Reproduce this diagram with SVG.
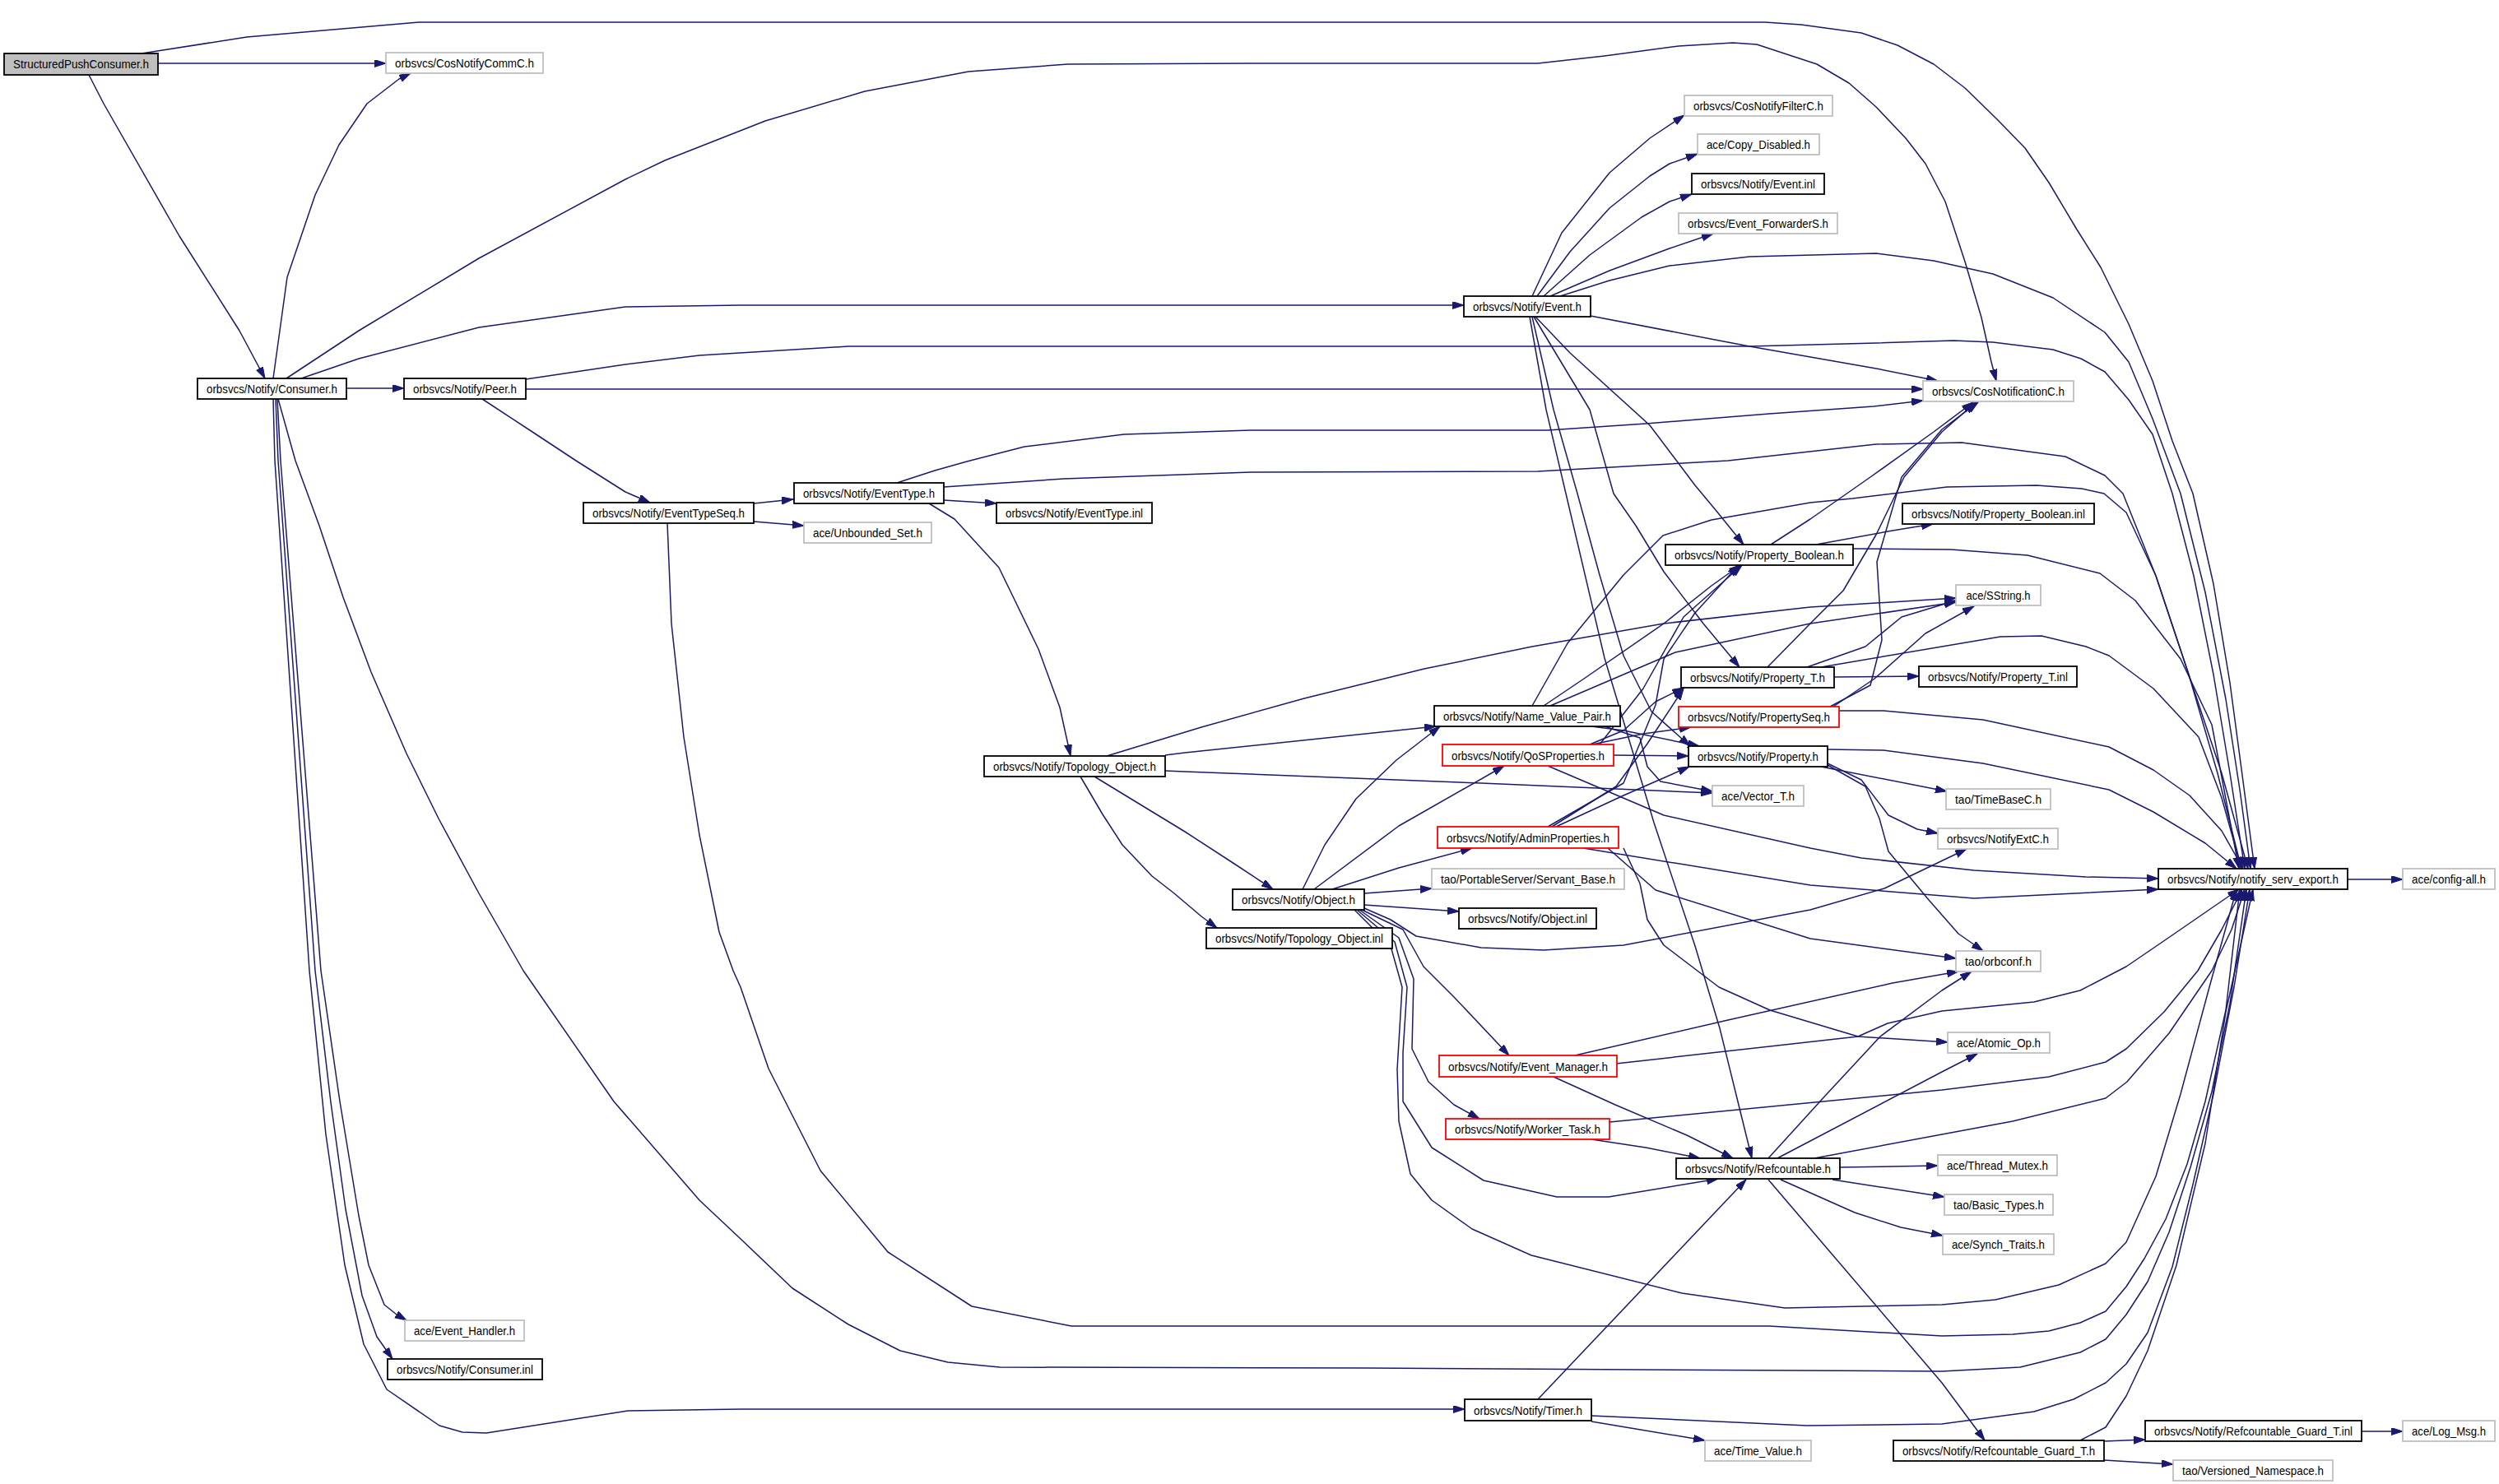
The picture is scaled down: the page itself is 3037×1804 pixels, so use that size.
<svg xmlns="http://www.w3.org/2000/svg" width="3037" height="1804" viewBox="0 0 3037 1804">
<style>
rect{fill:#fff;stroke-width:1.8}
.n rect{stroke:#000}
.g rect{stroke:#bfbfbf}
.r rect{stroke:#ff0000}
.s rect{stroke:#000;fill:#bfbfbf}
text{font-family:"Liberation Sans",Arial,sans-serif;font-size:15px;fill:#000;text-anchor:middle}
#edges path{fill:none;stroke:#191970;stroke-width:1.5;stroke-linejoin:round;marker-end:url(#ah)}
</style>
<defs>
<marker id="ah" markerUnits="userSpaceOnUse" markerWidth="16" markerHeight="10" refX="14" refY="4.5" orient="auto">
<path d="M0,0 L14,4.5 L0,9 Z" fill="#191970" stroke="#191970" stroke-width="1"/>
</marker>
</defs>
<rect x="0" y="0" width="3037" height="1804" style="fill:#fff;stroke:none"/>
<g id="edges">
<path d="M192,77 L469,77"/>
<path d="M108,91 L126,126 L218,287 L291,402 L322,460"/>
<path d="M172,65 L300,45 L509,27 L760,27 L2145,27 L2189,30 L2262,40 L2306,55 L2350,78 L2388,107 L2427,145 L2461,180 L2490,222 L2524,279 L2553,325 L2587,394 L2616,463 L2640,536 L2665,600 L2690,710 L2710,830 L2726,950 L2740,1056"/>
<path d="M332,460 L349,337 L383,237 L412,176 L446,126 L485,96 L499,89"/>
<path d="M348,460 L436,402 L582,314 L760,218 L808,195 L930,147 L1051,111 L1177,87 L1298,78 L1520,77 L1869,77 L1950,68 L2040,56 L2106,52 L2135,54 L2208,78 L2247,101 L2280,130 L2316,168 L2340,199 L2364,245 L2388,318 L2408,386 L2420,440 L2426,463"/>
<path d="M366,460 L436,436 L582,398 L760,373 L900,371 L1779,371"/>
<path d="M421,472 L491,472"/>
<path d="M338,485 L359,560 L388,639 L417,726 L451,817 L494,916 L533,995 L582,1086 L636,1180 L746,1339 L850,1459 L900,1506 L963,1566 L1031,1610 L1094,1642 L1152,1656 L1215,1662 L1660,1663 L2360,1667 L2455,1662 L2528,1644 L2559,1628 L2584,1598 L2610,1558 L2636,1498 L2662,1419 L2688,1327 L2710,1220 L2730,1081"/>
<path d="M337,485 L341,560 L390,1180 L413,1339 L436,1478 L448,1538 L467,1586 L482,1598 L494,1605"/>
<path d="M335,485 L338,560 L383,1180 L402,1340 L420,1470 L440,1575 L458,1625 L477,1652"/>
<path d="M332,485 L334,560 L376,1180 L396,1379 L419,1538 L442,1634 L470,1689 L534,1733 L562,1741 L591,1742 L763,1715 L900,1713 L1780,1713"/>
<path d="M639,473 L2337,473"/>
<path d="M639,461 L760,443 L850,432 L1031,421 L2126,421 L2280,417 L2374,414 L2422,416 L2495,425 L2529,436 L2558,452 L2587,486 L2616,528 L2640,600 L2666,700 L2690,820 L2710,940 L2728,1056"/>
<path d="M586,485 L650,527 L700,560 L760,598 L790,611"/>
<path d="M916,612 L964,607"/>
<path d="M916,634 L977,639"/>
<path d="M811,636 L816,758 L831,896 L850,1015 L874,1133 L891,1180 L900,1200 L934,1299 L997,1423 L1079,1522 L1181,1588 L1302,1612 L1660,1612 L2150,1612 L2360,1624 L2446,1622 L2490,1618 L2528,1608 L2559,1594 L2584,1564 L2606,1530 L2632,1482 L2658,1415 L2680,1339 L2705,1228 L2722,1081"/>
<path d="M1147,608 L1211,612"/>
<path d="M1090,587 L1136,572 L1175,561 L1245,543 L1366,528 L1520,523 L1881,523 L2000,515 L2150,503 L2277,494 L2337,487"/>
<path d="M1147,592 L1293,582 L1520,574 L1869,573 L2100,560 L2280,540 L2384,538 L2510,555 L2558,578 L2580,600 L2620,700 L2660,820 L2695,940 L2724,1056"/>
<path d="M1129,612 L1160,631 L1214,690 L1262,789 L1288,860 L1301,919"/>
<path d="M1345,919 L1460,884 L1585,849 L1731,813 L1862,786 L2022,758 L2200,738 L2377,727"/>
<path d="M1416,918 L1440,915 L1745,883"/>
<path d="M1416,937 L1440,938 L1800,952 L2081,964"/>
<path d="M1330,944 L1440,1011 L1500,1050 L1547,1081"/>
<path d="M1313,944 L1340,990 L1364,1027 L1400,1065 L1427,1086 L1460,1114 L1479,1128"/>
<path d="M1862,858 L1905,782 L1973,699 L2021,651 L2080,632 L2200,611 L2251,606 L2366,592 L2475,590 L2530,594 L2557,600 L2584,623 L2620,700 L2660,820 L2700,940 L2732,1056"/>
<path d="M1876,858 L1925,825 L2022,758 L2080,712 L2115,687"/>
<path d="M1884,858 L2036,793 L2200,758 L2377,732"/>
<path d="M1934,883 L1973,888 L2065,907"/>
<path d="M1950,883 L1993,897 L2002,932 L2018,950 L2081,962"/>
<path d="M1932,905 L1973,888 L2012,853 L2046,836"/>
<path d="M1944,905 L1997,837 L2046,750 L2117,687"/>
<path d="M1935,905 L1997,892 L2055,884"/>
<path d="M1961,918 L2052,919"/>
<path d="M1881,931 L2022,991 L2200,1031 L2262,1043 L2399,1058 L2535,1066 L2623,1068"/>
<path d="M1881,1005 L1973,952 L2012,857 L2022,801 L2060,745 L2113,687"/>
<path d="M1886,1005 L1964,956 L2002,904 L2046,837"/>
<path d="M1891,1005 L1973,967 L2053,932"/>
<path d="M1924,1031 L2200,1076 L2399,1092 L2623,1081"/>
<path d="M1954,1031 L2012,1082 L2200,1141 L2377,1165"/>
<path d="M1973,1031 L1993,1074 L2002,1118 L2022,1149 L2089,1200 L2151,1228 L2258,1260 L2367,1267"/>
<path d="M1583,1081 L1610,1027 L1648,971 L1697,924 L1750,883"/>
<path d="M1597,1081 L1700,1004 L1828,931"/>
<path d="M1619,1081 L1700,1055 L1789,1031"/>
<path d="M1658,1086 L1740,1080"/>
<path d="M1658,1100 L1773,1108"/>
<path d="M1658,1104 L1690,1118 L1721,1138 L1800,1152 L1876,1155 L1973,1149 L2200,1106 L2290,1080 L2390,1032"/>
<path d="M1655,1106 L1705,1130 L1730,1175 L1767,1212 L1834,1283"/>
<path d="M1652,1106 L1700,1140 L1718,1190 L1716,1275 L1736,1315 L1767,1343 L1798,1360"/>
<path d="M1649,1106 L1695,1145 L1710,1200 L1705,1280 L1705,1339 L1740,1395 L1803,1435 L1892,1455 L1955,1455 L2088,1433"/>
<path d="M1646,1106 L1690,1150 L1704,1200 L1698,1300 L1700,1363 L1714,1427 L1740,1459 L1789,1494 L1861,1526 L2044,1572 L2169,1590 L2360,1586 L2425,1580 L2502,1562 L2559,1536 L2584,1510 L2620,1430 L2650,1330 L2685,1200 L2718,1081"/>
<path d="M1888,1309 L1963,1343 L2050,1380 L2106,1408"/>
<path d="M1914,1283 L2100,1240 L2300,1195 L2380,1181"/>
<path d="M1964,1293 L2258,1260 L2294,1244 L2360,1229 L2472,1218 L2528,1204 L2584,1175 L2628,1145 L2721,1081"/>
<path d="M1934,1385 L2000,1395 L2066,1408"/>
<path d="M1956,1364 L2360,1325 L2490,1309 L2559,1291 L2584,1275 L2630,1230 L2671,1180 L2700,1130 L2725,1081"/>
<path d="M2149,1408 L2220,1330 L2285,1260 L2360,1204 L2396,1181"/>
<path d="M2160,1408 L2360,1303 L2403,1281"/>
<path d="M2205,1408 L2360,1379 L2446,1363 L2559,1335 L2585,1315 L2636,1256 L2688,1180 L2712,1130 L2728,1081"/>
<path d="M2236,1419 L2355,1417"/>
<path d="M2227,1434 L2363,1455"/>
<path d="M2164,1434 L2254,1474 L2310,1492 L2361,1502"/>
<path d="M2149,1434 L2360,1681 L2412,1751"/>
<path d="M1869,1701 L2122,1434"/>
<path d="M1934,1721 L2196,1733 L2360,1731 L2472,1716 L2520,1701 L2559,1681 L2584,1658 L2610,1620 L2640,1540 L2665,1440 L2690,1330 L2715,1200 L2734,1081"/>
<path d="M1934,1728 L2072,1751"/>
<path d="M2557,1752 L2607,1750"/>
<path d="M2557,1775 L2641,1780"/>
<path d="M2528,1751 L2559,1735 L2584,1697 L2610,1642 L2645,1538 L2680,1390 L2705,1230 L2738,1081"/>
<path d="M2870,1740 L2920,1740"/>
<path d="M2853,1069 L2920,1069"/>
<path d="M1862,360 L1898,283 L1956,210 L2005,168 L2047,140"/>
<path d="M1868,360 L1908,306 L1956,253 L2005,214 L2029,199 L2063,187"/>
<path d="M1876,360 L1932,310 L1995,264 L2029,245 L2056,236"/>
<path d="M1884,360 L1956,329 L2029,302 L2082,284"/>
<path d="M1896,360 L1956,341 L2029,323 L2126,312 L2280,308 L2350,317 L2422,333 L2495,362 L2558,404 L2587,440 L2616,509 L2650,600 L2680,720 L2705,850 L2722,960 L2735,1056"/>
<path d="M1933,384 L2126,421 L2280,448 L2355,463"/>
<path d="M1866,385 L1908,429 L2005,517 L2060,590 L2085,620 L2119,662"/>
<path d="M1864,385 L1932,498 L1961,600 L1988,639 L2022,695 L2070,758 L2114,811"/>
<path d="M1862,385 L1888,498 L1917,600 L1944,699 L1973,797 L2007,865 L2054,907"/>
<path d="M1859,385 L1879,498 L1903,600 L1950,800 L2010,1000 L2060,1150 L2090,1250 L2129,1408"/>
<path d="M2207,662 L2300,645 L2349,637"/>
<path d="M2152,662 L2200,631 L2273,580 L2350,525 L2398,489"/>
<path d="M2252,667 L2371,668 L2464,675 L2552,697 L2595,730 L2650,801 L2688,881 L2721,1056"/>
<path d="M2229,823 L2332,822"/>
<path d="M2196,811 L2267,786 L2311,750 L2377,730"/>
<path d="M2213,811 L2431,774 L2481,773 L2535,786 L2563,797 L2617,837 L2672,896 L2700,970 L2724,1056"/>
<path d="M2148,811 L2200,758 L2240,718 L2280,650 L2314,580 L2360,525 L2401,489"/>
<path d="M2224,859 L2273,833 L2287,778 L2281,683 L2311,580 L2360,522 L2404,489"/>
<path d="M2228,859 L2278,825 L2340,770 L2399,737"/>
<path d="M2235,864 L2289,864 L2410,875 L2563,908 L2617,936 L2661,967 L2700,1010 L2726,1056"/>
<path d="M2221,911 L2289,912 L2410,928 L2563,960 L2617,987 L2680,1025 L2718,1056"/>
<path d="M2213,932 L2366,962"/>
<path d="M2221,928 L2262,948 L2295,991 L2330,1008 L2355,1013"/>
<path d="M2221,930 L2267,956 L2284,995 L2295,1035 L2344,1094 L2380,1135 L2410,1156"/>
</g>
<g id="n_spc" class="s"><rect x="5" y="65" width="187" height="26"/><text x="98.5" y="83" textLength="165" lengthAdjust="spacingAndGlyphs">StructuredPushConsumer.h</text></g>
<g id="n_commc" class="g"><rect x="469" y="64" width="191" height="25"/><text x="564.5" y="82" textLength="169" lengthAdjust="spacingAndGlyphs">orbsvcs/CosNotifyCommC.h</text></g>
<g id="n_consumer" class="n"><rect x="240" y="460" width="181" height="25"/><text x="330.5" y="478" textLength="159" lengthAdjust="spacingAndGlyphs">orbsvcs/Notify/Consumer.h</text></g>
<g id="n_peer" class="n"><rect x="491" y="460" width="148" height="25"/><text x="565" y="478" textLength="126" lengthAdjust="spacingAndGlyphs">orbsvcs/Notify/Peer.h</text></g>
<g id="n_event" class="n"><rect x="1779" y="360" width="154" height="25"/><text x="1856" y="378" textLength="132" lengthAdjust="spacingAndGlyphs">orbsvcs/Notify/Event.h</text></g>
<g id="n_filterc" class="g"><rect x="2047" y="116" width="180" height="25"/><text x="2137" y="134" textLength="158" lengthAdjust="spacingAndGlyphs">orbsvcs/CosNotifyFilterC.h</text></g>
<g id="n_copydis" class="g"><rect x="2063" y="163" width="148" height="25"/><text x="2137" y="181" textLength="126" lengthAdjust="spacingAndGlyphs">ace/Copy_Disabled.h</text></g>
<g id="n_eventinl" class="n"><rect x="2056" y="211" width="161" height="25"/><text x="2136.5" y="229" textLength="139" lengthAdjust="spacingAndGlyphs">orbsvcs/Notify/Event.inl</text></g>
<g id="n_fwds" class="g"><rect x="2040" y="259" width="193" height="25"/><text x="2136.5" y="277" textLength="171" lengthAdjust="spacingAndGlyphs">orbsvcs/Event_ForwarderS.h</text></g>
<g id="n_cosnotif" class="g"><rect x="2337" y="463" width="183" height="25"/><text x="2428.5" y="481" textLength="161" lengthAdjust="spacingAndGlyphs">orbsvcs/CosNotificationC.h</text></g>
<g id="n_ets" class="n"><rect x="709" y="611" width="207" height="25"/><text x="812.5" y="629" textLength="185" lengthAdjust="spacingAndGlyphs">orbsvcs/Notify/EventTypeSeq.h</text></g>
<g id="n_et" class="n"><rect x="965" y="587" width="182" height="25"/><text x="1056" y="605" textLength="160" lengthAdjust="spacingAndGlyphs">orbsvcs/Notify/EventType.h</text></g>
<g id="n_etinl" class="n"><rect x="1211" y="611" width="189" height="25"/><text x="1305.5" y="629" textLength="167" lengthAdjust="spacingAndGlyphs">orbsvcs/Notify/EventType.inl</text></g>
<g id="n_ubset" class="g"><rect x="977" y="635" width="155" height="25"/><text x="1054.5" y="653" textLength="133" lengthAdjust="spacingAndGlyphs">ace/Unbounded_Set.h</text></g>
<g id="n_topo" class="n"><rect x="1196" y="919" width="220" height="25"/><text x="1306" y="937" textLength="198" lengthAdjust="spacingAndGlyphs">orbsvcs/Notify/Topology_Object.h</text></g>
<g id="n_pb" class="n"><rect x="2024" y="662" width="228" height="25"/><text x="2138" y="680" textLength="206" lengthAdjust="spacingAndGlyphs">orbsvcs/Notify/Property_Boolean.h</text></g>
<g id="n_pbinl" class="n"><rect x="2312" y="612" width="233" height="25"/><text x="2428.5" y="630" textLength="211" lengthAdjust="spacingAndGlyphs">orbsvcs/Notify/Property_Boolean.inl</text></g>
<g id="n_sstring" class="g"><rect x="2377" y="711" width="103" height="25"/><text x="2428.5" y="729" textLength="78" lengthAdjust="spacingAndGlyphs">ace/SString.h</text></g>
<g id="n_pt" class="n"><rect x="2043" y="811" width="186" height="25"/><text x="2136" y="829" textLength="164" lengthAdjust="spacingAndGlyphs">orbsvcs/Notify/Property_T.h</text></g>
<g id="n_ptinl" class="n"><rect x="2332" y="810" width="192" height="25"/><text x="2428" y="828" textLength="170" lengthAdjust="spacingAndGlyphs">orbsvcs/Notify/Property_T.inl</text></g>
<g id="n_pseq" class="r"><rect x="2040" y="859" width="195" height="25"/><text x="2137.5" y="877" textLength="173" lengthAdjust="spacingAndGlyphs">orbsvcs/Notify/PropertySeq.h</text></g>
<g id="n_prop" class="n"><rect x="2052" y="907" width="169" height="25"/><text x="2136.5" y="925" textLength="147" lengthAdjust="spacingAndGlyphs">orbsvcs/Notify/Property.h</text></g>
<g id="n_vector" class="g"><rect x="2081" y="955" width="111" height="25"/><text x="2136.5" y="973" textLength="89" lengthAdjust="spacingAndGlyphs">ace/Vector_T.h</text></g>
<g id="n_timebase" class="g"><rect x="2365" y="959" width="127" height="25"/><text x="2428.5" y="977" textLength="105" lengthAdjust="spacingAndGlyphs">tao/TimeBaseC.h</text></g>
<g id="n_extc" class="g"><rect x="2355" y="1007" width="146" height="25"/><text x="2428" y="1025" textLength="124" lengthAdjust="spacingAndGlyphs">orbsvcs/NotifyExtC.h</text></g>
<g id="n_nvp" class="n"><rect x="1743" y="858" width="226" height="25"/><text x="1856" y="876" textLength="204" lengthAdjust="spacingAndGlyphs">orbsvcs/Notify/Name_Value_Pair.h</text></g>
<g id="n_qos" class="r"><rect x="1753" y="905" width="208" height="26"/><text x="1857" y="924" textLength="186" lengthAdjust="spacingAndGlyphs">orbsvcs/Notify/QoSProperties.h</text></g>
<g id="n_admin" class="r"><rect x="1747" y="1005" width="220" height="26"/><text x="1857" y="1024" textLength="198" lengthAdjust="spacingAndGlyphs">orbsvcs/Notify/AdminProperties.h</text></g>
<g id="n_servant" class="g"><rect x="1740" y="1056" width="234" height="25"/><text x="1857" y="1074" textLength="212" lengthAdjust="spacingAndGlyphs">tao/PortableServer/Servant_Base.h</text></g>
<g id="n_object" class="n"><rect x="1498" y="1081" width="160" height="25"/><text x="1578" y="1099" textLength="138" lengthAdjust="spacingAndGlyphs">orbsvcs/Notify/Object.h</text></g>
<g id="n_objinl" class="n"><rect x="1773" y="1104" width="167" height="25"/><text x="1856.5" y="1122" textLength="145" lengthAdjust="spacingAndGlyphs">orbsvcs/Notify/Object.inl</text></g>
<g id="n_topoinl" class="n"><rect x="1466" y="1128" width="226" height="25"/><text x="1579" y="1146" textLength="204" lengthAdjust="spacingAndGlyphs">orbsvcs/Notify/Topology_Object.inl</text></g>
<g id="n_nse" class="n"><rect x="2623" y="1056" width="230" height="25"/><text x="2738" y="1074" textLength="208" lengthAdjust="spacingAndGlyphs">orbsvcs/Notify/notify_serv_export.h</text></g>
<g id="n_config" class="g"><rect x="2920" y="1056" width="112" height="25"/><text x="2976" y="1074" textLength="90" lengthAdjust="spacingAndGlyphs">ace/config-all.h</text></g>
<g id="n_orbconf" class="g"><rect x="2377" y="1156" width="103" height="25"/><text x="2428.5" y="1174" textLength="81" lengthAdjust="spacingAndGlyphs">tao/orbconf.h</text></g>
<g id="n_atomic" class="g"><rect x="2367" y="1255" width="124" height="25"/><text x="2429" y="1273" textLength="102" lengthAdjust="spacingAndGlyphs">ace/Atomic_Op.h</text></g>
<g id="n_evmgr" class="r"><rect x="1749" y="1283" width="216" height="26"/><text x="1857" y="1302" textLength="194" lengthAdjust="spacingAndGlyphs">orbsvcs/Notify/Event_Manager.h</text></g>
<g id="n_worker" class="r"><rect x="1757" y="1360" width="199" height="25"/><text x="1856.5" y="1378" textLength="177" lengthAdjust="spacingAndGlyphs">orbsvcs/Notify/Worker_Task.h</text></g>
<g id="n_refc" class="n"><rect x="2037" y="1408" width="199" height="25"/><text x="2136.5" y="1426" textLength="177" lengthAdjust="spacingAndGlyphs">orbsvcs/Notify/Refcountable.h</text></g>
<g id="n_mutex" class="g"><rect x="2355" y="1404" width="145" height="25"/><text x="2427.5" y="1422" textLength="123" lengthAdjust="spacingAndGlyphs">ace/Thread_Mutex.h</text></g>
<g id="n_basic" class="g"><rect x="2363" y="1452" width="132" height="25"/><text x="2429" y="1470" textLength="110" lengthAdjust="spacingAndGlyphs">tao/Basic_Types.h</text></g>
<g id="n_synch" class="g"><rect x="2361" y="1500" width="135" height="25"/><text x="2428.5" y="1518" textLength="113" lengthAdjust="spacingAndGlyphs">ace/Synch_Traits.h</text></g>
<g id="n_evhandler" class="g"><rect x="492" y="1605" width="145" height="25"/><text x="564.5" y="1623" textLength="123" lengthAdjust="spacingAndGlyphs">ace/Event_Handler.h</text></g>
<g id="n_consinl" class="n"><rect x="471" y="1652" width="188" height="25"/><text x="565" y="1670" textLength="166" lengthAdjust="spacingAndGlyphs">orbsvcs/Notify/Consumer.inl</text></g>
<g id="n_timer" class="n"><rect x="1780" y="1701" width="154" height="26"/><text x="1857" y="1720" textLength="132" lengthAdjust="spacingAndGlyphs">orbsvcs/Notify/Timer.h</text></g>
<g id="n_timeval" class="g"><rect x="2072" y="1751" width="129" height="25"/><text x="2136.5" y="1769" textLength="107" lengthAdjust="spacingAndGlyphs">ace/Time_Value.h</text></g>
<g id="n_rgt" class="n"><rect x="2301" y="1751" width="256" height="25"/><text x="2429" y="1769" textLength="234" lengthAdjust="spacingAndGlyphs">orbsvcs/Notify/Refcountable_Guard_T.h</text></g>
<g id="n_rgtinl" class="n"><rect x="2607" y="1727" width="263" height="25"/><text x="2738.5" y="1745" textLength="241" lengthAdjust="spacingAndGlyphs">orbsvcs/Notify/Refcountable_Guard_T.inl</text></g>
<g id="n_logmsg" class="g"><rect x="2920" y="1727" width="112" height="25"/><text x="2976" y="1745" textLength="90" lengthAdjust="spacingAndGlyphs">ace/Log_Msg.h</text></g>
<g id="n_versioned" class="g"><rect x="2641" y="1775" width="194" height="25"/><text x="2738" y="1793" textLength="172" lengthAdjust="spacingAndGlyphs">tao/Versioned_Namespace.h</text></g>
</svg>
